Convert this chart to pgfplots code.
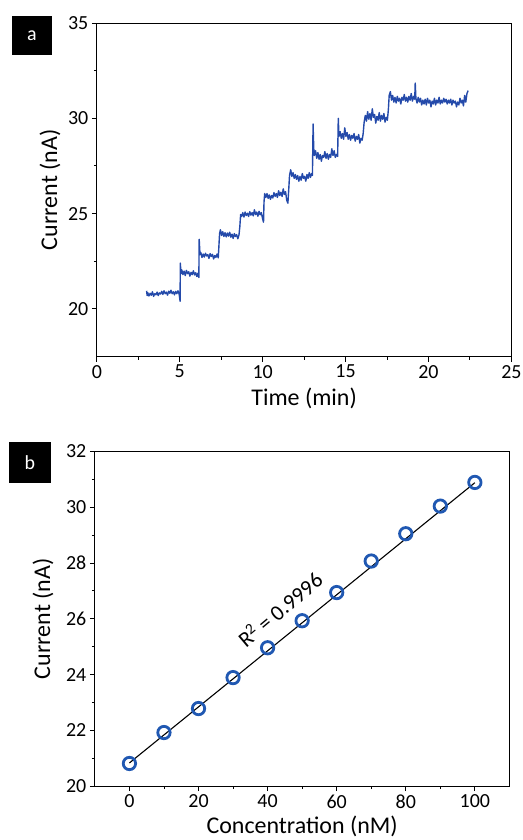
\documentclass[border=0pt]{standalone}
\usepackage{pgfplots}
\pgfplotsset{compat=1.18}
\usepackage{fontspec}
\setmainfont{Carlito}
\definecolor{trace}{RGB}{36,74,170}
\definecolor{mk}{RGB}{32,88,178}

\begin{document}
\begin{tikzpicture}
\path[use as bounding box] (-97pt,-484pt) rectangle (426pt,357pt);
\pgfplotsset{
  panel/.style={
    scale only axis, width=415pt, height=334pt,
    axis line style={line width=0.9pt},
    tick align=outside, tick pos=left,
    major tick length=5pt, minor tick length=3pt,
    every tick/.style={line width=0.9pt, black},
    minor tick num=1,
    ticklabel style={font=\fontsize{20}{24}\selectfont},
    label style={font=\fontsize{24}{28}\selectfont},
    /pgf/number format/assume math mode=true,
  }}

% (a) current vs time
\begin{axis}[panel, at={(0,0)}, anchor=south west,
  xmin=0, xmax=25, ymin=17.5, ymax=35,
  xtick={0,5,...,25}, ytick={20,25,30,35},
  xlabel={Time (min)}, ylabel={Current (nA)},
  x label style={at={(axis description cs:0.5,-0.126)}, anchor=center},
  y label style={at={(axis description cs:-0.113,0.5)}, anchor=center},
]
\addplot[trace, line width=1.4pt, line join=round] table {
t I
3.00 20.95
3.03 20.70
3.07 20.85
3.14 20.68
3.21 20.82
3.28 20.72
3.35 20.90
3.42 20.66
3.49 20.80
3.56 20.74
3.63 20.88
3.70 20.70
3.77 20.84
3.84 20.78
3.91 20.92
3.98 20.76
4.05 20.95
4.12 20.80
4.19 20.88
4.26 20.72
4.33 20.93
4.40 20.82
4.47 20.98
4.54 20.80
4.61 20.90
4.68 20.74
4.75 20.92
4.82 20.80
4.89 20.95
4.96 20.78
5.02 20.40
5.03 22.40
5.08 21.85
5.12 22.05
5.19 21.80
5.26 21.98
5.33 21.75
5.40 22.02
5.47 21.85
5.54 21.95
5.61 21.72
5.68 21.92
5.75 21.80
5.82 22.00
5.89 21.78
5.96 21.90
6.03 21.70
6.10 21.88
6.15 21.65
6.17 23.65
6.22 22.85
6.27 22.95
6.34 22.70
6.41 22.88
6.48 22.72
6.55 22.92
6.62 22.78
6.69 22.85
6.76 22.65
6.83 22.90
6.90 22.75
6.97 22.86
7.04 22.62
7.11 22.80
7.18 22.70
7.25 22.88
7.32 22.68
7.36 23.30
7.40 23.95
7.45 24.15
7.52 23.85
7.59 24.05
7.66 23.80
7.73 24.00
7.80 23.78
7.87 23.98
7.94 23.82
8.01 24.02
8.08 23.76
8.15 23.92
8.22 23.70
8.29 23.95
8.36 23.80
8.43 23.90
8.50 23.68
8.57 23.88
8.62 24.30
8.67 24.95
8.73 24.85
8.80 25.05
8.87 24.82
8.94 25.08
9.01 24.90
9.08 25.02
9.15 24.85
9.22 25.10
9.29 24.92
9.36 25.05
9.43 24.88
9.50 25.20
9.57 24.95
9.64 25.08
9.71 24.86
9.78 25.12
9.85 24.94
9.92 25.05
9.99 24.75
10.05 24.55
10.08 25.60
10.12 26.05
10.19 25.85
10.26 26.05
10.33 25.80
10.40 25.98
10.47 25.75
10.54 25.95
10.61 25.82
10.68 26.10
10.75 25.90
10.82 26.05
10.89 25.85
10.96 26.20
11.03 25.95
11.10 26.12
11.17 25.90
11.24 26.30
11.31 26.00
11.38 26.15
11.45 25.70
11.52 25.55
11.58 26.40
11.62 27.00
11.69 27.30
11.76 26.95
11.83 27.15
11.90 26.85
11.97 27.05
12.04 26.80
12.11 27.00
12.18 26.70
12.25 26.95
12.32 26.75
12.39 27.10
12.46 26.85
12.53 26.95
12.60 26.70
12.67 27.05
12.74 26.85
12.81 27.15
12.88 26.90
12.95 27.10
13.00 27.00
13.04 29.70
13.08 28.40
13.12 28.05
13.19 28.30
13.26 27.90
13.33 28.20
13.40 27.85
13.47 28.10
13.54 27.75
13.61 28.05
13.68 27.95
13.75 28.25
13.82 27.90
13.89 28.15
13.96 27.85
14.03 28.10
14.10 27.95
14.17 28.40
14.24 28.05
14.31 28.30
14.38 27.95
14.45 28.10
14.52 28.00
14.56 30.00
14.60 29.05
14.67 29.30
14.74 28.95
14.81 29.20
14.88 28.90
14.95 29.50
15.02 29.05
15.09 29.25
15.16 28.90
15.23 29.15
15.30 28.85
15.37 29.10
15.44 28.95
15.51 29.20
15.58 28.80
15.65 29.05
15.72 28.90
15.79 29.15
15.86 28.70
15.93 28.95
16.00 28.85
16.06 29.20
16.12 29.80
16.19 30.15
16.26 29.85
16.33 30.35
16.40 29.95
16.47 30.25
16.54 29.90
16.61 30.50
16.68 30.05
16.75 30.20
16.82 29.75
16.89 30.10
16.96 29.90
17.03 30.30
17.10 29.85
17.17 30.15
17.24 29.95
17.31 30.25
17.38 29.80
17.45 30.05
17.52 29.90
17.58 30.45
17.63 31.20
17.70 31.40
17.77 30.95
17.84 31.20
17.91 30.85
17.98 31.10
18.05 30.80
18.12 31.15
18.19 30.90
18.26 31.05
18.33 30.75
18.40 31.10
18.47 30.95
18.54 31.25
18.61 30.90
18.68 31.10
18.75 30.85
18.82 31.15
18.89 30.95
18.96 31.30
19.03 30.90
19.10 31.15
19.17 31.00
19.20 31.85
19.24 31.05
19.31 30.80
19.38 31.10
19.45 30.85
19.52 31.05
19.59 30.70
19.66 30.95
19.73 30.75
19.80 31.00
19.87 30.70
19.94 31.05
20.01 30.80
20.08 30.95
20.15 30.60
20.22 30.90
20.29 30.75
20.36 31.05
20.43 30.70
20.50 30.95
20.57 30.80
20.64 31.10
20.71 30.75
20.78 30.95
20.85 30.80
20.92 31.05
20.99 30.85
21.06 31.00
21.13 30.75
21.20 30.95
21.27 30.80
21.34 31.00
21.41 30.70
21.48 30.95
21.55 30.80
21.62 30.90
21.69 30.60
21.76 30.85
21.83 30.70
21.90 31.05
21.97 30.80
22.04 30.95
22.11 30.65
22.18 31.20
22.25 30.85
22.32 31.30
22.39 31.45
};
\end{axis}
\node[fill=black, text=white, minimum width=40pt, minimum height=39pt,
  font=\fontsize{20}{24}\selectfont] at (-65pt,321.5pt) {a};

% (b) calibration
\begin{axis}[panel, at={(-2pt,-430pt)}, anchor=south west, height=335pt,
  xmin=-10, xmax=110, ymin=20, ymax=32,
  xtick={0,20,...,100}, ytick={20,22,...,32},
  xlabel={Concentration (nM)}, ylabel={Current (nA)},
  x label style={at={(axis description cs:0.5,-0.12)}, anchor=center},
  y label style={at={(axis description cs:-0.125,0.5)}, anchor=center},
]
\addplot[black, line width=1.1pt] coordinates {(0,20.83) (100,30.88)};
\addplot[only marks, mark=o, mark size=6.2pt, mk,
  mark options={line width=2.8pt}] coordinates {
(0,20.81) (10,21.92) (20,22.78) (30,23.89) (40,24.96) (50,25.93)
(60,26.94) (70,28.07) (80,29.05) (90,30.04) (100,30.89)
};
\node[rotate=40, font=\fontsize{22}{26}\selectfont] at (axis cs:43.5,26.35)
  {R\textsuperscript{2} = 0.9996};
\end{axis}
\node[fill=black, text=white, minimum width=42pt, minimum height=41pt,
  font=\fontsize{20}{24}\selectfont] at (-67pt,-106pt) {b};
\end{tikzpicture}
\end{document}
